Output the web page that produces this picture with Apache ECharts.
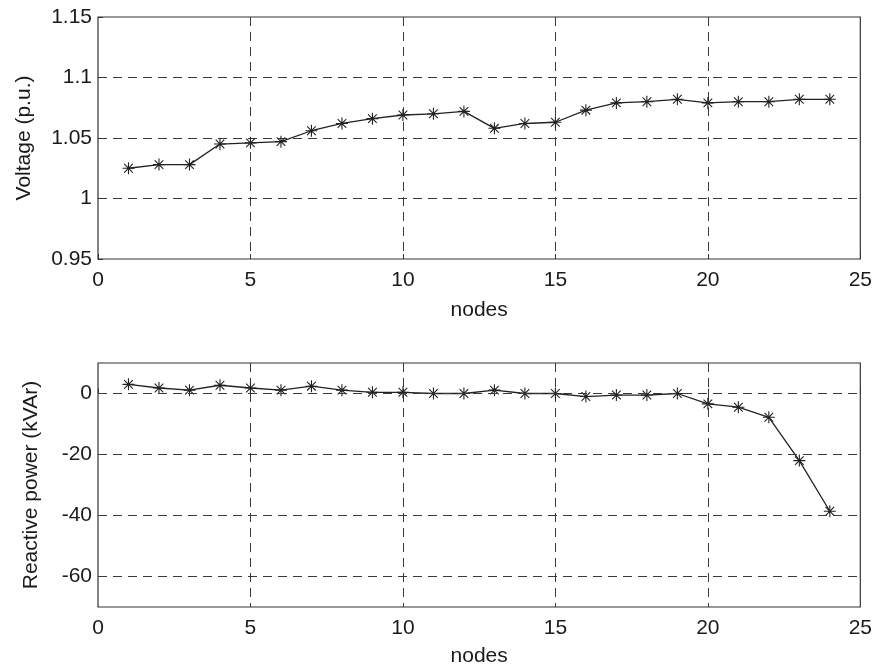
<!DOCTYPE html>
<html>
<head>
<meta charset="utf-8">
<script src="https://cdn.jsdelivr.net/npm/echarts@6/dist/echarts.min.js"></script>
<style>
  html, body { margin: 0; padding: 0; background: #fff; }
  #chart { width: 875px; height: 668px; }
</style>
</head>
<body>
<div id="chart"></div>
<script>
// nodes 1..24
var nodes = [1, 2, 3, 4, 5, 6, 7, 8, 9, 10, 11, 12, 13, 14, 15, 16, 17, 18, 19, 20, 21, 22, 23, 24];

// voltage per node (p.u.)
var voltage = [1.025, 1.028, 1.028, 1.045, 1.046, 1.047, 1.056, 1.062, 1.066, 1.069, 1.070, 1.072,
               1.058, 1.062, 1.063, 1.073, 1.079, 1.080, 1.082, 1.079, 1.080, 1.080, 1.082, 1.082];

// reactive power per node (kVAr)
var reactive = [3.0, 1.8, 1.1, 2.7, 1.8, 1.1, 2.4, 1.1, 0.4, 0.4, 0, 0,
                1.1, 0, 0, -1.0, -0.5, -0.5, 0, -3.4, -4.5, -7.8, -22, -38.6];

// tick labels of the lower y axis
var qTicks = [-60, -40, -20, 0];

var dom = document.getElementById('chart');
var myChart = echarts.init(dom);

var txt = { fontFamily: 'Liberation Sans', fontSize: 21, color: '#1a1a1a' };
var dash = { color: '#3a3a3a', type: [9, 6], width: 1 };
var star = 'path://M0 -5 L0 5 M-5 0 L5 0 M-3.6 -3.6 L3.6 3.6 M-3.6 3.6 L3.6 -3.6';

function pairs(ys) {
    return nodes.map(function (n, i) { return [n, ys[i]]; });
}

function xAxisFor(idx, gap) {
    return {
        type: 'value', gridIndex: idx, min: 0, max: 25, interval: 5,
        name: 'nodes', nameLocation: 'middle', nameGap: gap,
        nameTextStyle: txt,
        axisLine: { show: false },
        axisTick: { inside: true, length: 5, lineStyle: { color: '#333' } },
        axisLabel: Object.assign({ margin: 11 }, txt),
        splitLine: { show: true, showMinLine: false, showMaxLine: false, lineStyle: dash }
    };
}

option = {
    animation: false,
    grid: [
        { left: 98, right: 13, top: 17, height: 242, show: true, borderColor: '#333', borderWidth: 1.2 },
        { left: 98, right: 13, top: 363, height: 244, show: true, borderColor: '#333', borderWidth: 1.2 }
    ],
    xAxis: [xAxisFor(0, 41), xAxisFor(1, 39)],
    yAxis: [
        {
            type: 'value', gridIndex: 0, min: 0.95, max: 1.15, interval: 0.05,
            name: 'Voltage (p.u.)', nameLocation: 'middle', nameGap: 63,
            nameTextStyle: txt,
            axisLine: { show: false },
            axisTick: { inside: true, length: 5, lineStyle: { color: '#333' } },
            axisLabel: Object.assign({ margin: 6, formatter: function (v) { return String(+v.toFixed(2)); } }, txt),
            splitLine: { show: true, showMinLine: false, showMaxLine: false, lineStyle: dash }
        },
        {
            type: 'value', gridIndex: 1, min: -70, max: 10,
            name: 'Reactive power (kVAr)', nameLocation: 'middle', nameGap: 56,
            nameTextStyle: txt,
            axisLine: { show: false },
            axisTick: { inside: true, length: 5, customValues: qTicks, lineStyle: { color: '#333' } },
            axisLabel: Object.assign({ margin: 6, customValues: qTicks }, txt),
            splitLine: { show: false }
        }
    ],
    series: [
        {
            type: 'line', xAxisIndex: 0, yAxisIndex: 0,
            data: pairs(voltage),
            symbol: star, symbolSize: 12,
            itemStyle: { color: '#222', borderColor: '#222', borderWidth: 1.1 },
            lineStyle: { color: '#222', width: 1.3 }
        },
        {
            type: 'line', xAxisIndex: 1, yAxisIndex: 1,
            data: pairs(reactive),
            symbol: star, symbolSize: 12,
            itemStyle: { color: '#222', borderColor: '#222', borderWidth: 1.1 },
            lineStyle: { color: '#222', width: 1.3 },
            markLine: {
                silent: true, symbol: 'none', label: { show: false },
                lineStyle: dash,
                data: qTicks.map(function (v) { return { yAxis: v }; })
            }
        }
    ]
};

myChart.setOption(option);
</script>
</body>
</html>
